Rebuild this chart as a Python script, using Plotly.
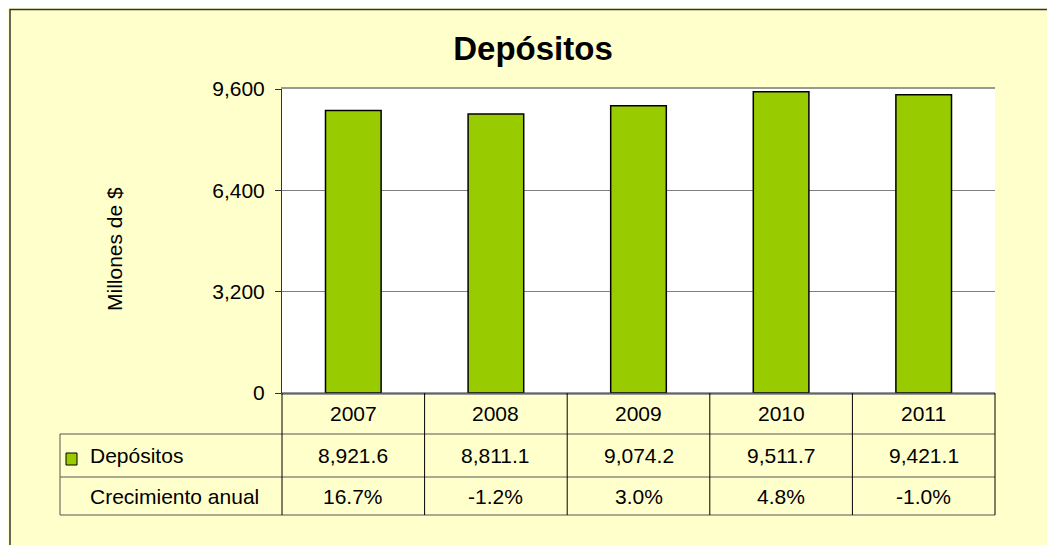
import plotly.graph_objects as go

# data
years = ["2007", "2008", "2009", "2010", "2011"]
depositos = [8921.6, 8811.1, 9074.2, 9511.7, 9421.1]
crecimiento = [16.7, -1.2, 3.0, 4.8, -1.0]
y_ticks = [0, 3200, 6400, 9600]

BG = "#FFFFCC"
GREEN = "#99CC00"
FONT = "Liberation Sans, Arial, sans-serif"

# the page body has an 8px margin, so the figure is a bit smaller than the window
OFF = 8
W, H = 1055 - OFF, 545 - OFF
# plot area in window pixels
L, R, T, B = 282, 995, 89, 393


def px(x):
    return (x - L) / (R - L)


def py(y):
    return (B - y) / (B - T)


fig = go.Figure()

fig.add_trace(go.Bar(
    x=years,
    y=depositos,
    width=0.39,
    marker=dict(color=GREEN, line=dict(color="black", width=1.5)),
    name="Depósitos",
    hovertemplate="%{x}: %{y:,.1f}<extra></extra>",
))

shapes = []
annotations = []

# outer frame
shapes.append(dict(type="rect", xref="paper", yref="paper",
                   x0=px(10), x1=px(1052), y0=py(560), y1=py(9.5),
                   line=dict(color="#333333", width=1.5), layer="below"))

# data table under the axis
row_lines = [393, 434, 477, 515]
for i, yy in enumerate(row_lines):
    x_start = L if i == 0 else 60
    shapes.append(dict(type="line", xref="paper", yref="paper",
                       x0=px(x_start), x1=1, y0=py(yy), y1=py(yy),
                       line=dict(color="#333333" if i == 0 else "#555555", width=1)))
# left edge of the label column
shapes.append(dict(type="line", xref="paper", yref="paper",
                   x0=px(60), x1=px(60), y0=py(434), y1=py(515),
                   line=dict(color="#555555", width=1)))
# column separators
for k in range(len(years) + 1):
    xp = k / len(years)
    shapes.append(dict(type="line", xref="paper", yref="paper",
                       x0=xp, x1=xp, y0=py(393), y1=py(515),
                       line=dict(color="black", width=1)))

# legend key in the table
shapes.append(dict(type="rect", xref="paper", yref="paper",
                   x0=px(66), x1=px(77), y0=py(465), y1=py(453),
                   fillcolor=GREEN, line=dict(color="black", width=1)))

cell_font = dict(family=FONT, size=21, color="black")
for i, (yr, dep, cre) in enumerate(zip(years, depositos, crecimiento)):
    for yy, txt in [(413.5, yr), (455.5, f"{dep:,.1f}"), (496, f"{cre:.1f}%")]:
        annotations.append(dict(x=i, xref="x", y=py(yy), yref="paper",
                                text=txt, showarrow=False, font=cell_font,
                                xanchor="center", yanchor="middle"))

for yy, txt in [(455.5, "Depósitos"), (496, "Crecimiento anual")]:
    annotations.append(dict(x=px(88), xref="paper", y=py(yy), yref="paper",
                            text=txt, showarrow=False, xanchor="left",
                            yanchor="middle", font=cell_font))

# y axis title
annotations.append(dict(x=px(114), xref="paper", y=py(249), yref="paper",
                        text="Millones de $", textangle=-90, showarrow=False,
                        xanchor="center", yanchor="middle",
                        font=dict(family=FONT, size=21, color="black")))

fig.update_layout(
    width=W, height=H,
    margin=dict(l=L - OFF, r=W - (R - OFF), t=T - OFF, b=H - (B - OFF)),
    paper_bgcolor=BG,
    plot_bgcolor="white",
    showlegend=False,
    title=dict(text="<b>Depósitos</b>", x=(533 - OFF) / W,
               xanchor="center", y=1 - (48 - OFF) / H, yanchor="middle",
               font=dict(family=FONT, size=33, color="black")),
    font=dict(family=FONT, color="black"),
    xaxis=dict(type="category", range=[-0.5, 4.5], showticklabels=False,
               showgrid=False, ticks="", showline=True, linecolor="#999999",
               linewidth=2, mirror=True, zeroline=False, fixedrange=True),
    yaxis=dict(range=[0, 9600], tickvals=y_ticks, tickformat=",",
               ticks="outside", ticklen=6, tickcolor="#333333",
               tickfont=dict(family=FONT, size=21, color="black"),
               ticklabelstandoff=6,
               showgrid=True, gridcolor="#7f7f7f", gridwidth=1,
               showline=True, linecolor="#333333", linewidth=1,
               zeroline=False, fixedrange=True),
    shapes=shapes,
    annotations=annotations,
)

fig.write_html("out.html")
